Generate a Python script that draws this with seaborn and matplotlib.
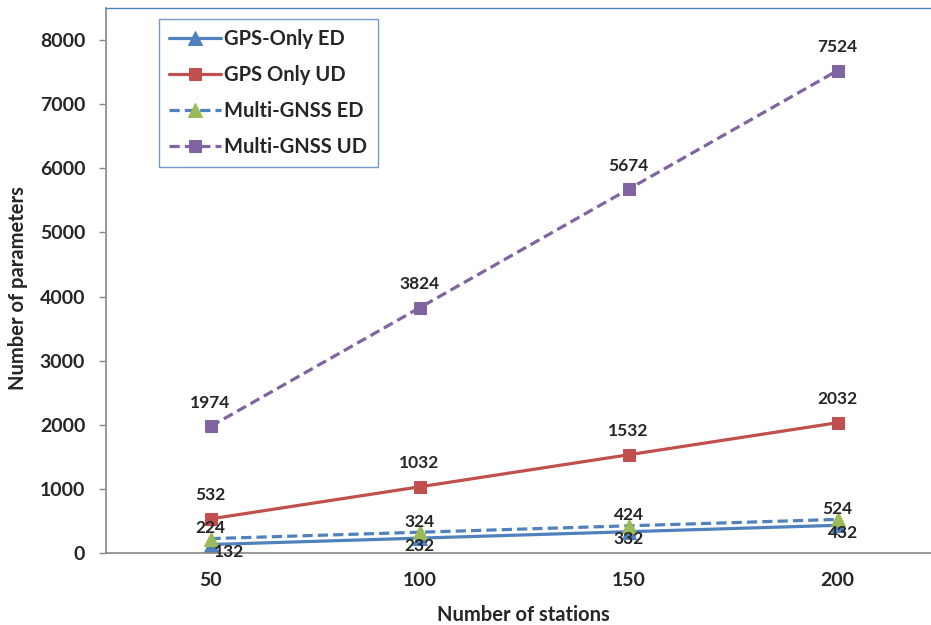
import matplotlib
matplotlib.use("Agg")
import matplotlib.pyplot as plt
import seaborn as sns
import pandas as pd

stations = ["50", "100", "150", "200"]
gps_ed = [132, 232, 332, 432]
gps_ud = [532, 1032, 1532, 2032]
mgnss_ed = [224, 324, 424, 524]
mgnss_ud = [1974, 3824, 5674, 7524]
series_names = ["GPS-Only ED", "GPS Only UD", "Multi-GNSS ED", "Multi-GNSS UD"]

sns.set_style("white")
plt.rcParams["font.family"] = ["Lato", "DejaVu Sans"]
W = "bold"
plt.rcParams["font.weight"] = W

fig = plt.figure(figsize=(9.31, 6.25), dpi=100)
ax = fig.add_axes([106/931, 72/625, 1 - 106/931, (553-8)/625])

dash = (0, (3.2, 1.6))
styles = [
    dict(color="#4F81BD", marker="^", linestyle="-", mfc="#4F81BD", mec="#4F81BD", ms=10),
    dict(color="#C0504D", marker="s", linestyle="-", mfc="#C0504D", mec="#C0504D", ms=8.5),
    dict(color="#4F81BD", marker="^", linestyle=dash, mfc="#9BBB59", mec="#9BBB59", ms=10),
    dict(color="#8064A2", marker="s", linestyle=dash, mfc="#8064A2", mec="#8064A2", ms=8.5),
]
data = [gps_ed, gps_ud, mgnss_ed, mgnss_ud]

for name, vals, st in zip(series_names, data, styles):
    df = pd.DataFrame({"x": stations, "y": vals})
    sns.lineplot(data=df, x="x", y="y", ax=ax, label=name, linewidth=2.3,
                 color=st["color"], marker=st["marker"], linestyle=st["linestyle"],
                 markerfacecolor=st["mfc"], markeredgecolor=st["mec"], markersize=st["ms"],
                 sort=False)

# data labels (offsets in points; 1px = 0.72pt)
fs = 12.5
for i, v in enumerate(gps_ed):
    dx = 0.09 if i == 0 else (0.025 if i == 3 else 0)
    ax.annotate(str(v), (i + dx, v), xytext=(0, -5.5), textcoords="offset points",
                ha="center", va="center", fontsize=fs, fontweight=W)
for i, v in enumerate(mgnss_ed):
    ax.annotate(str(v), (i, v), xytext=(0, 7.5), textcoords="offset points",
                ha="center", va="center", fontsize=fs, fontweight=W)
for series in (gps_ud, mgnss_ud):
    for i, v in enumerate(series):
        ax.annotate(str(v), (i, v), xytext=(0, 17), textcoords="offset points",
                    ha="center", va="center", fontsize=fs, fontweight=W)

ax.set_xlim(-0.5, -0.5 + (931 - 106) / 209)
ax.set_ylim(0, 8500)
ax.set_yticks(range(0, 8001, 1000))
ax.set_yticklabels([str(t) for t in range(0, 8001, 1000)], fontsize=14, fontweight=W)
ax.set_xticks(range(len(stations)))
ax.set_xticklabels(stations, fontsize=14, fontweight=W)
ax.tick_params(axis="x", length=0, pad=14)
ax.tick_params(axis="y", length=5, width=1, color="#868686", direction="out", left=True, pad=10)

ax.set_xlabel("Number of stations", fontsize=14.5, fontweight=W)
ax.set_ylabel("Number of parameters", fontsize=14.5, fontweight=W)
ax.xaxis.set_label_coords((523 - 106) / 825, (553 - 615) / 545)
ax.yaxis.set_label_coords((18 - 106) / 825, (553 - 288) / 545)
ax.xaxis.label.set_va("center")
ax.yaxis.label.set_va("center")

for s in ("left", "bottom"):
    ax.spines[s].set_color("#868686")
    ax.spines[s].set_linewidth(1.2)
ax.spines["right"].set_visible(False)
ax.spines["top"].set_visible(True)
ax.spines["top"].set_color("#4F81BD")
ax.spines["top"].set_linewidth(1.0)

leg = ax.legend(loc="upper left", bbox_to_anchor=(159/931, 1 - 19/625),
                bbox_transform=fig.transFigure, fontsize=14.5, frameon=True,
                fancybox=False, edgecolor="#4F81BD", handlelength=2.6,
                labelspacing=0.8, borderpad=0.5, handletextpad=0.15,
                borderaxespad=0)
leg.get_frame().set_linewidth(1.0)
for t in leg.get_texts():
    t.set_fontweight(W)

fig.savefig("out.png", dpi=100)
